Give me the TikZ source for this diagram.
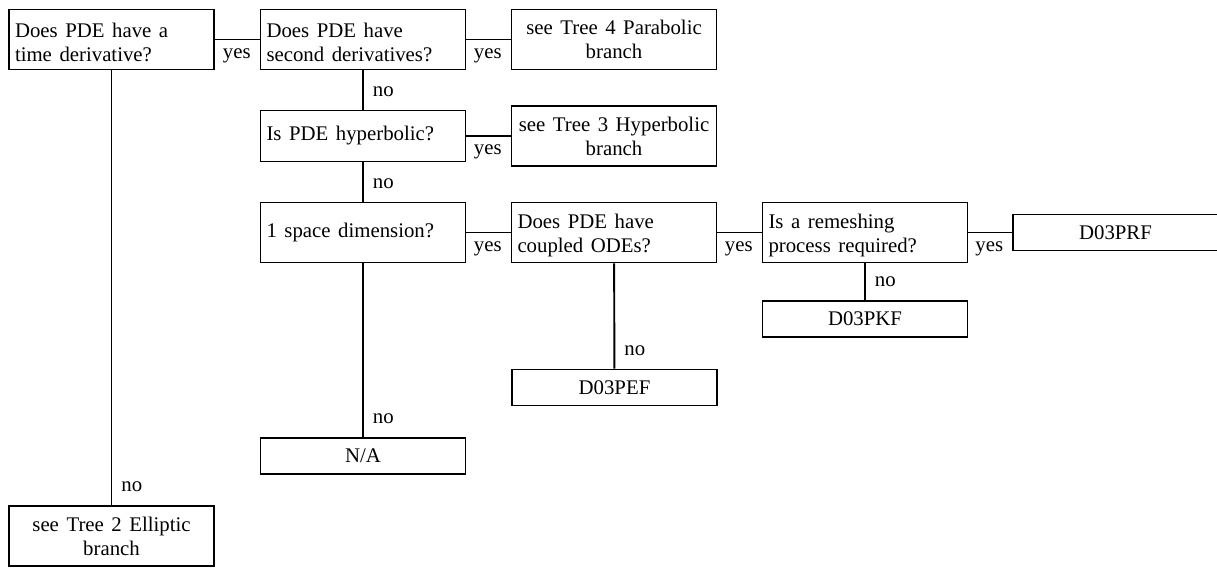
\documentclass[tikz,border=0pt]{standalone}
\usepackage{fontspec}
\setmainfont{Liberation Serif}[WordSpace=1.45]
\usepackage{tikz}

\begin{document}
\begin{tikzpicture}[x=1pt, y=-1pt,
  question/.style={draw, line width=1.9pt, text width=193pt, inner xsep=6pt, inner ysep=3pt,
    minimum height=60pt, align=flush left, font=\fontsize{20.8}{23.8}\selectfont},
  lowtext/.style={execute at begin node=\rule{0pt}{20pt}},
  answer/.style={question, align=flush center, minimum height=36pt},
  link/.style={line width=1.9pt},
  yeslabel/.style={below left, inner xsep=8pt, inner ysep=8pt, font=\fontsize{20.8}{23.8}\selectfont},
  nolabel/.style={above right, inner xsep=9pt, inner ysep=12pt, font=\fontsize{20.8}{23.8}\selectfont}]

\useasboundingbox (0,0) rectangle (1217,568);

% first row
\node[question, lowtext] (timederiv) at (111.5,39.5) {Does PDE have a time derivative?};
\node[question, lowtext] (secondderiv) at (363,39.5) {Does PDE have second derivatives?};
\node[question, align=flush center] (parabolic) at (614,39.5) {see Tree 4 Parabolic branch};

% second row
\node[question, minimum height=51pt] (hyperq) at (363,136) {Is PDE hyperbolic?};
\node[question, align=flush center] (hyperbolic) at (614,136) {see Tree 3 Hyperbolic branch};

% third row
\node[question] (spacedim) at (363,232.5) {1 space dimension?};
\node[question, lowtext] (coupled) at (614,232.5) {Does PDE have coupled ODEs?};
\node[question, lowtext] (remesh) at (865,232.5) {Is a remeshing process required?};
\node[answer] (prf) at (1115.5,232.5) {D03PRF};

% leaves
\node[answer] (pkf) at (865,319) {D03PKF};
\node[answer] (pef) at (614.5,387.5) {D03PEF};
\node[answer] (na) at (363,456) {N/A};
\node[question, align=flush center] (elliptic) at (111.5,536) {see Tree 2 Elliptic branch};

\draw[link] (timederiv) -- (secondderiv) node[pos=1, yeslabel] {yes};
\draw[link] (secondderiv) -- (parabolic) node[pos=1, yeslabel] {yes};
\draw[link] (hyperq) -- (hyperbolic) node[pos=1, yeslabel] {yes};
\draw[link] (spacedim) -- (coupled) node[pos=1, yeslabel] {yes};
\draw[link] (coupled) -- (remesh) node[pos=1, yeslabel] {yes};
\draw[link] (remesh) -- (prf) node[pos=1, yeslabel] {yes};

\draw[link] (timederiv) -- (elliptic) node[pos=1, nolabel] {no};
\draw[link] (secondderiv) -- (hyperq) node[pos=1, nolabel] {no};
\draw[link] (hyperq) -- (spacedim) node[pos=1, nolabel] {no};
\draw[link] (spacedim) -- (na) node[pos=1, nolabel] {no};
\draw[link] (coupled) -- (pef) node[pos=1, nolabel] {no};
\draw[link] (remesh) -- (pkf) node[pos=1, nolabel] {no};

\end{tikzpicture}
\end{document}
